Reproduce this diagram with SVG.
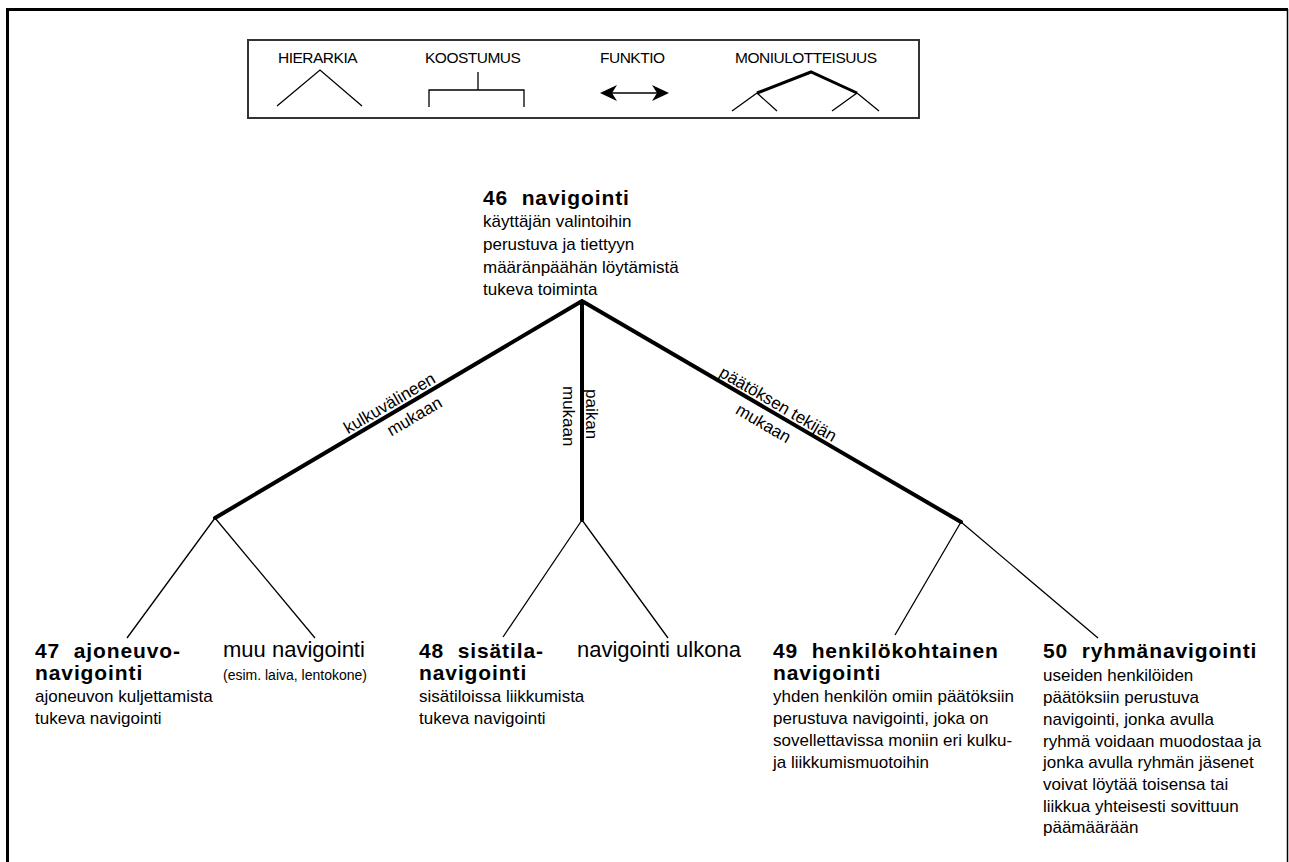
<svg xmlns="http://www.w3.org/2000/svg" width="1289" height="862" viewBox="0 0 1289 862">
  <style>
    .t { font-family: "Liberation Sans", Arial, sans-serif; fill: #000; }
    .head { font-weight: bold; font-size: 21px; letter-spacing: 0.9px; white-space: pre; }
    .desc { font-size: 17px; }
    .alt { font-size: 22px; }
    .note { font-size: 14px; }
    .leg { font-size: 15.5px; letter-spacing: -0.5px; }
    .lbl { font-size: 17px; }
    .thick { stroke: #000; stroke-width: 4; fill: none; stroke-linecap: round; }
    .thin { stroke: #000; stroke-width: 1.3; fill: none; }
  </style>

  <rect width="1289" height="862" fill="#fff"/>

  <!-- frame -->
  <g id="frame">
    <path d="M7.5 870 V9.5 H1288" stroke="#000" stroke-width="3" fill="none"/>
    <line x1="1287.5" y1="9" x2="1287.5" y2="870" stroke="#000" stroke-width="1.5"/>
  </g>

  <!-- legend -->
  <g id="legend">
    <rect x="248" y="40" width="671" height="78" fill="none" stroke="#333" stroke-width="2"/>
    <text class="t leg" x="278" y="63">HIERARKIA</text>
    <polyline class="thin" points="277,106 320,70 362,106"/>
    <text class="t leg" x="425" y="63">KOOSTUMUS</text>
    <path class="thin" d="M478 72 V90 M429 107 V90 H524 V107"/>
    <text class="t leg" x="600" y="63">FUNKTIO</text>
    <line x1="608" y1="93" x2="661" y2="93" stroke="#000" stroke-width="1.5"/>
    <polygon points="600,93 617,85 612,93 617,101" fill="#000"/>
    <polygon points="669,93 652,85 657,93 652,101" fill="#000"/>
    <text class="t leg" x="735" y="63">MONIULOTTEISUUS</text>
    <polyline points="757,93 811,72 857,93" stroke="#000" stroke-width="3" fill="none"/>
    <path class="thin" d="M757 93 L732 111 M757 93 L777 111 M857 93 L832 111 M857 93 L879 111"/>
  </g>

  <!-- connectors -->
  <g id="connectors">
    <path class="thick" d="M582 301 L215 518 M582 301 V520 M582 301 L961 522"/>
    <path class="thin" d="M215 518 L127 638 M215 518 L315 638"/>
    <path class="thin" d="M582 520 L503 637 M582 520 L668 638"/>
    <path class="thin" d="M961 522 L895 635 M961 522 L1098 638"/>
    <g transform="translate(350,437.6) rotate(-30.47)">
      <text class="t lbl" x="0" y="-4">kulkuvälineen</text>
      <text class="t lbl" x="36" y="20">mukaan</text>
    </g>
    <g transform="translate(585.5,389) rotate(90)">
      <text class="t lbl" x="0" y="0">paikan</text>
    </g>
    <g transform="translate(563,386) rotate(90)">
      <text class="t lbl" x="0" y="0">mukaan</text>
    </g>
    <g transform="translate(716,379.1) rotate(30.25)">
      <text class="t lbl" x="0" y="-4">päätöksen tekijän</text>
      <text class="t lbl" x="33" y="20">mukaan</text>
    </g>
  </g>

  <!-- nodes -->
  <g id="n46">
    <text class="t head" x="483" y="205">46  navigointi</text>
    <text class="t desc" x="483" y="227">käyttäjän valintoihin</text>
    <text class="t desc" x="483" y="250">perustuva ja tiettyyn</text>
    <text class="t desc" x="483" y="273">määränpäähän löytämistä</text>
    <text class="t desc" x="483" y="295">tukeva toiminta</text>
  </g>

  <g id="n47">
    <text class="t head" x="35" y="658">47  ajoneuvo-</text>
    <text class="t head" x="35" y="680">navigointi</text>
    <text class="t desc" x="35" y="702">ajoneuvon kuljettamista</text>
    <text class="t desc" x="35" y="724">tukeva navigointi</text>
  </g>

  <g id="muu">
    <text class="t alt" x="223" y="657">muu navigointi</text>
    <text class="t note" x="223" y="680">(esim. laiva, lentokone)</text>
  </g>

  <g id="n48">
    <text class="t head" x="419" y="658">48  sisätila-</text>
    <text class="t head" x="419" y="680">navigointi</text>
    <text class="t desc" x="419" y="702">sisätiloissa liikkumista</text>
    <text class="t desc" x="419" y="724">tukeva navigointi</text>
  </g>

  <g id="ulkona">
    <text class="t alt" x="577" y="657">navigointi ulkona</text>
  </g>

  <g id="n49">
    <text class="t head" x="773" y="658">49  henkilökohtainen</text>
    <text class="t head" x="773" y="680">navigointi</text>
    <text class="t desc" x="773" y="702">yhden henkilön omiin päätöksiin</text>
    <text class="t desc" x="773" y="724">perustuva navigointi, joka on</text>
    <text class="t desc" x="773" y="746">sovellettavissa moniin eri kulku-</text>
    <text class="t desc" x="773" y="768">ja liikkumismuotoihin</text>
  </g>

  <g id="n50">
    <text class="t head" x="1043" y="658">50  ryhmänavigointi</text>
    <text class="t desc" x="1043" y="681">useiden henkilöiden</text>
    <text class="t desc" x="1043" y="703">päätöksiin perustuva</text>
    <text class="t desc" x="1043" y="725">navigointi, jonka avulla</text>
    <text class="t desc" x="1043" y="747">ryhmä voidaan muodostaa ja</text>
    <text class="t desc" x="1043" y="768">jonka avulla ryhmän jäsenet</text>
    <text class="t desc" x="1043" y="790">voivat löytää toisensa tai</text>
    <text class="t desc" x="1043" y="812">liikkua yhteisesti sovittuun</text>
    <text class="t desc" x="1043" y="833">päämäärään</text>
  </g>
</svg>
